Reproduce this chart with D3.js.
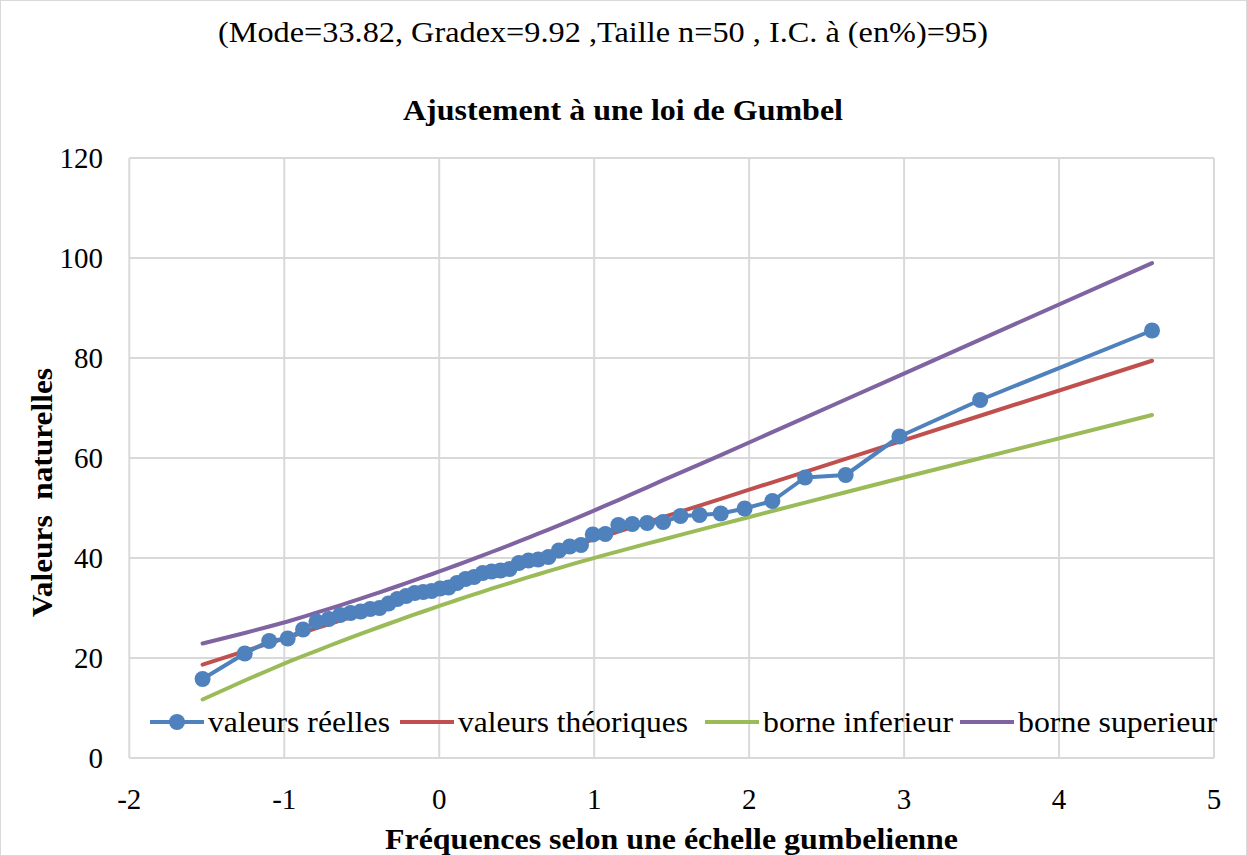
<!DOCTYPE html>
<html>
<head>
<meta charset="utf-8">
<script src="https://cdn.jsdelivr.net/npm/d3@7"></script>
<style>
  body { margin: 0; background: #fff; }
  svg text { font-family: "Liberation Serif", Tinos, "Times New Roman", Times, serif; fill: #000; }
</style>
</head>
<body>
<script>
// Gumbel reduced variable (x axis), one per observation
var gumbelU = [-1.527, -1.255, -1.097, -0.978, -0.879, -0.792, -0.713, -0.640, -0.572, -0.507,
  -0.445, -0.385, -0.327, -0.270, -0.213, -0.158, -0.103, -0.049, 0.006, 0.060,
  0.115, 0.170, 0.225, 0.281, 0.338, 0.396, 0.454, 0.514, 0.576, 0.639,
  0.705, 0.772, 0.842, 0.915, 0.991, 1.072, 1.156, 1.246, 1.342, 1.445,
  1.557, 1.680, 1.817, 1.971, 2.150, 2.361, 2.623, 2.970, 3.491, 4.600];

var valeursReelles = [15.8, 20.9, 23.4, 23.9, 25.7, 27.3, 27.8, 28.6, 29.0, 29.3,
  29.8, 30.0, 30.9, 31.8, 32.4, 33.0, 33.2, 33.4, 33.9, 34.1,
  35.0, 35.8, 36.2, 37.0, 37.3, 37.5, 37.8, 39.0, 39.5, 39.7,
  40.2, 41.5, 42.3, 42.6, 44.7, 44.8, 46.6, 46.8, 47.0, 47.2,
  48.4, 48.6, 48.9, 49.9, 51.4, 56.1, 56.6, 64.3, 71.6, 85.5];

var valeursTheoriques = [18.67, 21.37, 22.94, 24.12, 25.10, 25.97, 26.75, 27.47, 28.14, 28.79,
  29.40, 30.00, 30.58, 31.15, 31.70, 32.25, 32.80, 33.34, 33.88, 34.42,
  34.96, 35.50, 36.05, 36.61, 37.17, 37.74, 38.33, 38.92, 39.53, 40.16,
  40.81, 41.48, 42.17, 42.90, 43.66, 44.45, 45.29, 46.18, 47.13, 48.16,
  49.27, 50.49, 51.84, 53.38, 55.14, 57.24, 59.84, 63.28, 68.45, 79.45];

var borneInferieur = [11.7, 15.5, 17.6, 19.17, 20.40, 21.44, 22.40, 23.26, 24.06, 24.81,
  25.52, 26.20, 26.85, 27.48, 28.11, 28.71, 29.30, 29.88, 30.46, 31.03,
  31.60, 32.17, 32.73, 33.29, 33.86, 34.43, 34.99, 35.57, 36.16, 36.75,
  37.37, 37.98, 38.61, 39.26, 39.92, 40.62, 41.33, 42.08, 42.87, 43.71,
  44.62, 45.62, 46.73, 47.96, 49.39, 51.08, 53.15, 55.89, 59.95, 68.60];

var borneSuperieur = [22.9, 25.0, 26.3, 27.30, 28.23, 29.06, 29.82, 30.54, 31.22, 31.88,
  32.51, 33.14, 33.75, 34.35, 34.96, 35.56, 36.16, 36.75, 37.37, 37.98,
  38.60, 39.23, 39.87, 40.53, 41.20, 41.89, 42.59, 43.32, 44.08, 44.87,
  45.69, 46.54, 47.44, 48.39, 49.38, 50.46, 51.59, 52.81, 54.13, 55.57,
  57.07, 58.73, 60.59, 62.70, 65.17, 68.08, 71.70, 76.49, 83.68, 98.98];

var xTicks = [-2, -1, 0, 1, 2, 3, 4, 5];
var yTicks = [0, 20, 40, 60, 80, 100, 120];

var seriesNames = ["valeurs réelles", "valeurs théoriques", "borne inferieur", "borne superieur"];
var seriesColors = ["#4f81bd", "#c0504d", "#9bbb59", "#8064a2"];

var W = 1247, H = 856;
var svg = d3.select("body").append("svg").attr("width", W).attr("height", H)
    .attr("font-family", "'Liberation Serif', Tinos, 'Times New Roman', serif");

svg.append("rect").attr("x", 0.5).attr("y", 0.5).attr("width", W - 1).attr("height", H - 1)
    .attr("fill", "#fff").attr("stroke", "#d9d9d9");

var x = d3.scaleLinear().domain([-2, 5]).range([129.3, 1214]);
var y = d3.scaleLinear().domain([0, 120]).range([758, 158]);

// grid
svg.append("g").selectAll("line").data(yTicks).enter().append("line")
    .attr("x1", x(-2)).attr("x2", x(5))
    .attr("y1", function(d) { return y(d); }).attr("y2", function(d) { return y(d); })
    .attr("stroke", "#d9d9d9").attr("stroke-width", 2);
svg.append("g").selectAll("line").data(xTicks).enter().append("line")
    .attr("y1", y(0)).attr("y2", y(120))
    .attr("x1", function(d) { return x(d); }).attr("x2", function(d) { return x(d); })
    .attr("stroke", "#d9d9d9").attr("stroke-width", 2);

// tick labels
svg.append("g").selectAll("text").data(yTicks).enter().append("text")
    .attr("x", 103).attr("y", function(d) { return y(d) + 10; })
    .attr("text-anchor", "end").style("font-size", "29px")
    .text(function(d) { return d; });
svg.append("g").selectAll("text").data(xTicks).enter().append("text")
    .attr("x", function(d) { return x(d); }).attr("y", 809)
    .attr("text-anchor", "middle").style("font-size", "29px")
    .text(function(d) { return d; });

// series
var allSeries = [valeursReelles, valeursTheoriques, borneInferieur, borneSuperieur];
var line = d3.line()
    .x(function(d, i) { return x(gumbelU[i]); })
    .y(function(d) { return y(d); });

[3, 2, 1, 0].forEach(function(k) {
  svg.append("path").datum(allSeries[k])
      .attr("d", line)
      .attr("fill", "none")
      .attr("stroke", seriesColors[k])
      .attr("stroke-width", 4)
      .attr("stroke-linejoin", "round")
      .attr("stroke-linecap", "round");
});

svg.append("g").selectAll("circle").data(valeursReelles).enter().append("circle")
    .attr("cx", function(d, i) { return x(gumbelU[i]); })
    .attr("cy", function(d) { return y(d); })
    .attr("r", 8)
    .attr("fill", seriesColors[0]);

// legend
var legendX = [150, 400, 705, 960];
var legendTextLen = [182, 230, 190, 199];
var legY = 722;
var leg = svg.append("g").selectAll("g").data(seriesNames).enter().append("g");
leg.append("line")
    .attr("x1", function(d, i) { return legendX[i]; })
    .attr("x2", function(d, i) { return legendX[i] + 54; })
    .attr("y1", legY).attr("y2", legY)
    .attr("stroke", function(d, i) { return seriesColors[i]; })
    .attr("stroke-width", 4);
leg.filter(function(d, i) { return i === 0; }).append("circle")
    .attr("cx", legendX[0] + 27).attr("cy", legY).attr("r", 8)
    .attr("fill", seriesColors[0]);
leg.append("text")
    .attr("x", function(d, i) { return legendX[i] + 58; })
    .attr("y", legY + 10)
    .attr("textLength", function(d, i) { return legendTextLen[i]; })
    .attr("lengthAdjust", "spacingAndGlyphs")
    .style("font-size", "30px")
    .text(function(d) { return d; });

// titles
svg.append("text").attr("x", 218).attr("y", 42)
    .attr("textLength", 770).attr("lengthAdjust", "spacingAndGlyphs")
    .style("font-size", "29px")
    .text("(Mode=33.82, Gradex=9.92 ,Taille n=50 , I.C. à (en%)=95)");

svg.append("text").attr("x", 403).attr("y", 120)
    .attr("textLength", 440).attr("lengthAdjust", "spacingAndGlyphs")
    .style("font-size", "29px").style("font-weight", "bold")
    .text("Ajustement à une loi de Gumbel");

svg.append("text").attr("x", 385).attr("y", 849)
    .attr("textLength", 573).attr("lengthAdjust", "spacingAndGlyphs")
    .style("font-size", "29px").style("font-weight", "bold")
    .text("Fréquences selon une échelle gumbelienne");

svg.append("text")
    .attr("transform", "translate(52,617) rotate(-90)")
    .attr("textLength", 249).attr("lengthAdjust", "spacingAndGlyphs")
    .style("font-size", "29px").style("font-weight", "bold")
    .style("white-space", "pre")
    .text("Valeurs  naturelles");
</script>
</body>
</html>
